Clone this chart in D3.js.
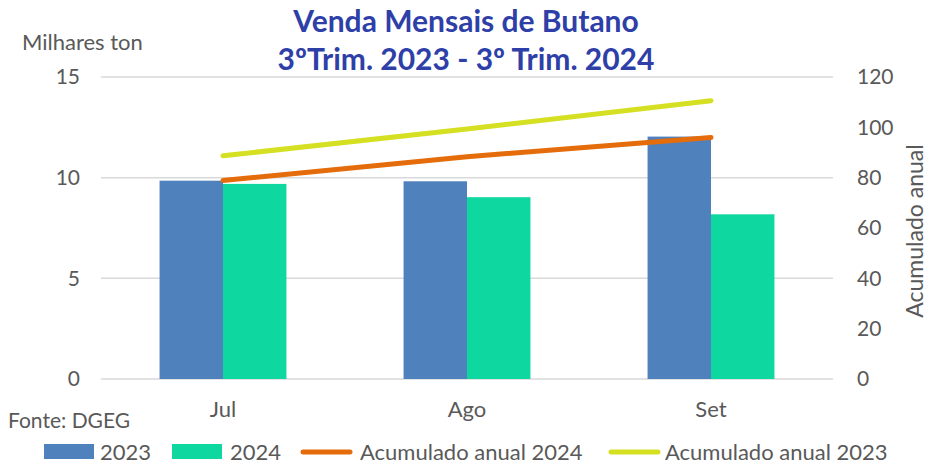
<!DOCTYPE html>
<html><head><meta charset="utf-8">
<script src="https://cdn.jsdelivr.net/npm/d3@7"></script>
<style>body{margin:0;background:#fff}svg{display:block}text{font-family:Lato,"Open Sans",sans-serif}</style>
</head><body><svg id="c" width="929" height="464"></svg>
<script>
const categories = ["Jul","Ago","Set"];
const sales2023 = [9.85, 9.82, 12.04];
const sales2024 = [9.69, 9.03, 8.18];
const cum2024 = [78.9, 88.3, 96.0];
const cum2023 = [88.7, 99.3, 110.6];
const leftTicks = [0,5,10,15];
const rightTicks = [0,20,40,60,80,100,120];

const svg = d3.select("#c");
const L=101, R=833, T=77, B=379;
const x = d3.scaleBand().domain(categories).range([L,R]).paddingInner(0.48).paddingOuter(0.24);
const xs = d3.scaleBand().domain(["2023","2024"]).range([0,x.bandwidth()]);
const y = d3.scaleLinear().domain([0,15]).range([B,T]);
const y2 = d3.scaleLinear().domain([0,120]).range([B,T]);
const grey="#595959";

// grid
svg.append("g").selectAll("line").data(leftTicks).join("line")
 .attr("x1",L).attr("x2",R).attr("y1",d=>y(d)).attr("y2",d=>y(d))
 .attr("stroke","#d9d9d9").attr("stroke-width",1.5);

// left axis
const ga = svg.append("g").attr("transform",`translate(${L},0)`)
 .call(d3.axisLeft(y).tickValues(leftTicks).tickSize(0).tickPadding(21));
ga.select(".domain").remove();
ga.selectAll("text").attr("font-size",21).attr("fill",grey).attr("font-family","Lato");
// right axis
const gb = svg.append("g").attr("transform",`translate(${R},0)`)
 .call(d3.axisRight(y2).tickValues(rightTicks).tickSize(0).tickPadding(24));
gb.select(".domain").remove();
gb.selectAll("text").attr("font-size",21).attr("fill",grey).attr("font-family","Lato");
// x axis
const gx = svg.append("g").attr("transform",`translate(0,${B})`)
 .call(d3.axisBottom(x).tickSize(0).tickPadding(22));
gx.select(".domain").remove();
gx.selectAll("text").attr("font-size",22).attr("fill",grey).attr("font-family","Lato");

// bars
const series=[{k:"2023",v:sales2023,c:"#4F81BD"},{k:"2024",v:sales2024,c:"#0ED8A0"}];
series.forEach(s=>{
 svg.append("g").selectAll("rect").data(categories).join("rect")
  .attr("x",(d)=>x(d)+xs(s.k)).attr("width",xs.bandwidth())
  .attr("y",(d,i)=>y(s.v[i])).attr("height",(d,i)=>B-y(s.v[i]))
  .attr("fill",s.c);
});

// lines
const line = d3.line().x((d,i)=>x(categories[i])+x.bandwidth()/2).y(d=>y2(d)).curve(d3.curveMonotoneX);
[{v:cum2023,c:"#D4E021"},{v:cum2024,c:"#E46C0A"}].forEach(s=>{
 svg.append("path").attr("d",line(s.v)).attr("fill","none").attr("stroke",s.c)
  .attr("stroke-width",5).attr("stroke-linecap","round");
});

// titles
const title = svg.append("text").attr("text-anchor","middle").attr("fill","#2E40A8")
 .attr("font-weight","bold").attr("font-size",30).attr("font-family","Lato");
title.append("tspan").attr("x",466).attr("y",32).text("Venda Mensais de Butano");
title.append("tspan").attr("x",466).attr("y",70).text("3ºTrim. 2023 - 3º Trim. 2024");

svg.append("text").attr("x",22).attr("y",50).attr("font-size",22).attr("fill",grey).text("Milhares ton");
svg.append("text").attr("transform","translate(923,231) rotate(-90)").attr("text-anchor","middle")
 .attr("font-size",23).attr("fill",grey).text("Acumulado anual");
svg.append("text").attr("x",8).attr("y",428).attr("font-size",21).attr("fill",grey).text("Fonte: DGEG");

// legend
const leg = [
 {t:"2023",c:"#4F81BD",type:"rect",x:44,tx:100},
 {t:"2024",c:"#0ED8A0",type:"rect",x:172,tx:230},
 {t:"Acumulado anual 2024",c:"#E46C0A",type:"line",x:300,tx:360},
 {t:"Acumulado anual 2023",c:"#D4E021",type:"line",x:608,tx:665}
];
const lg = svg.append("g");
leg.forEach(l=>{
 if(l.type==="rect") lg.append("rect").attr("x",l.x).attr("y",444).attr("width",50).attr("height",15).attr("fill",l.c);
 else lg.append("line").attr("x1",l.x+3).attr("x2",l.x+50).attr("y1",452).attr("y2",452).attr("stroke",l.c).attr("stroke-width",5).attr("stroke-linecap","round");
 lg.append("text").attr("x",l.tx).attr("y",460).attr("font-size",22).attr("fill",grey).text(l.t);
});
</script></body></html>
